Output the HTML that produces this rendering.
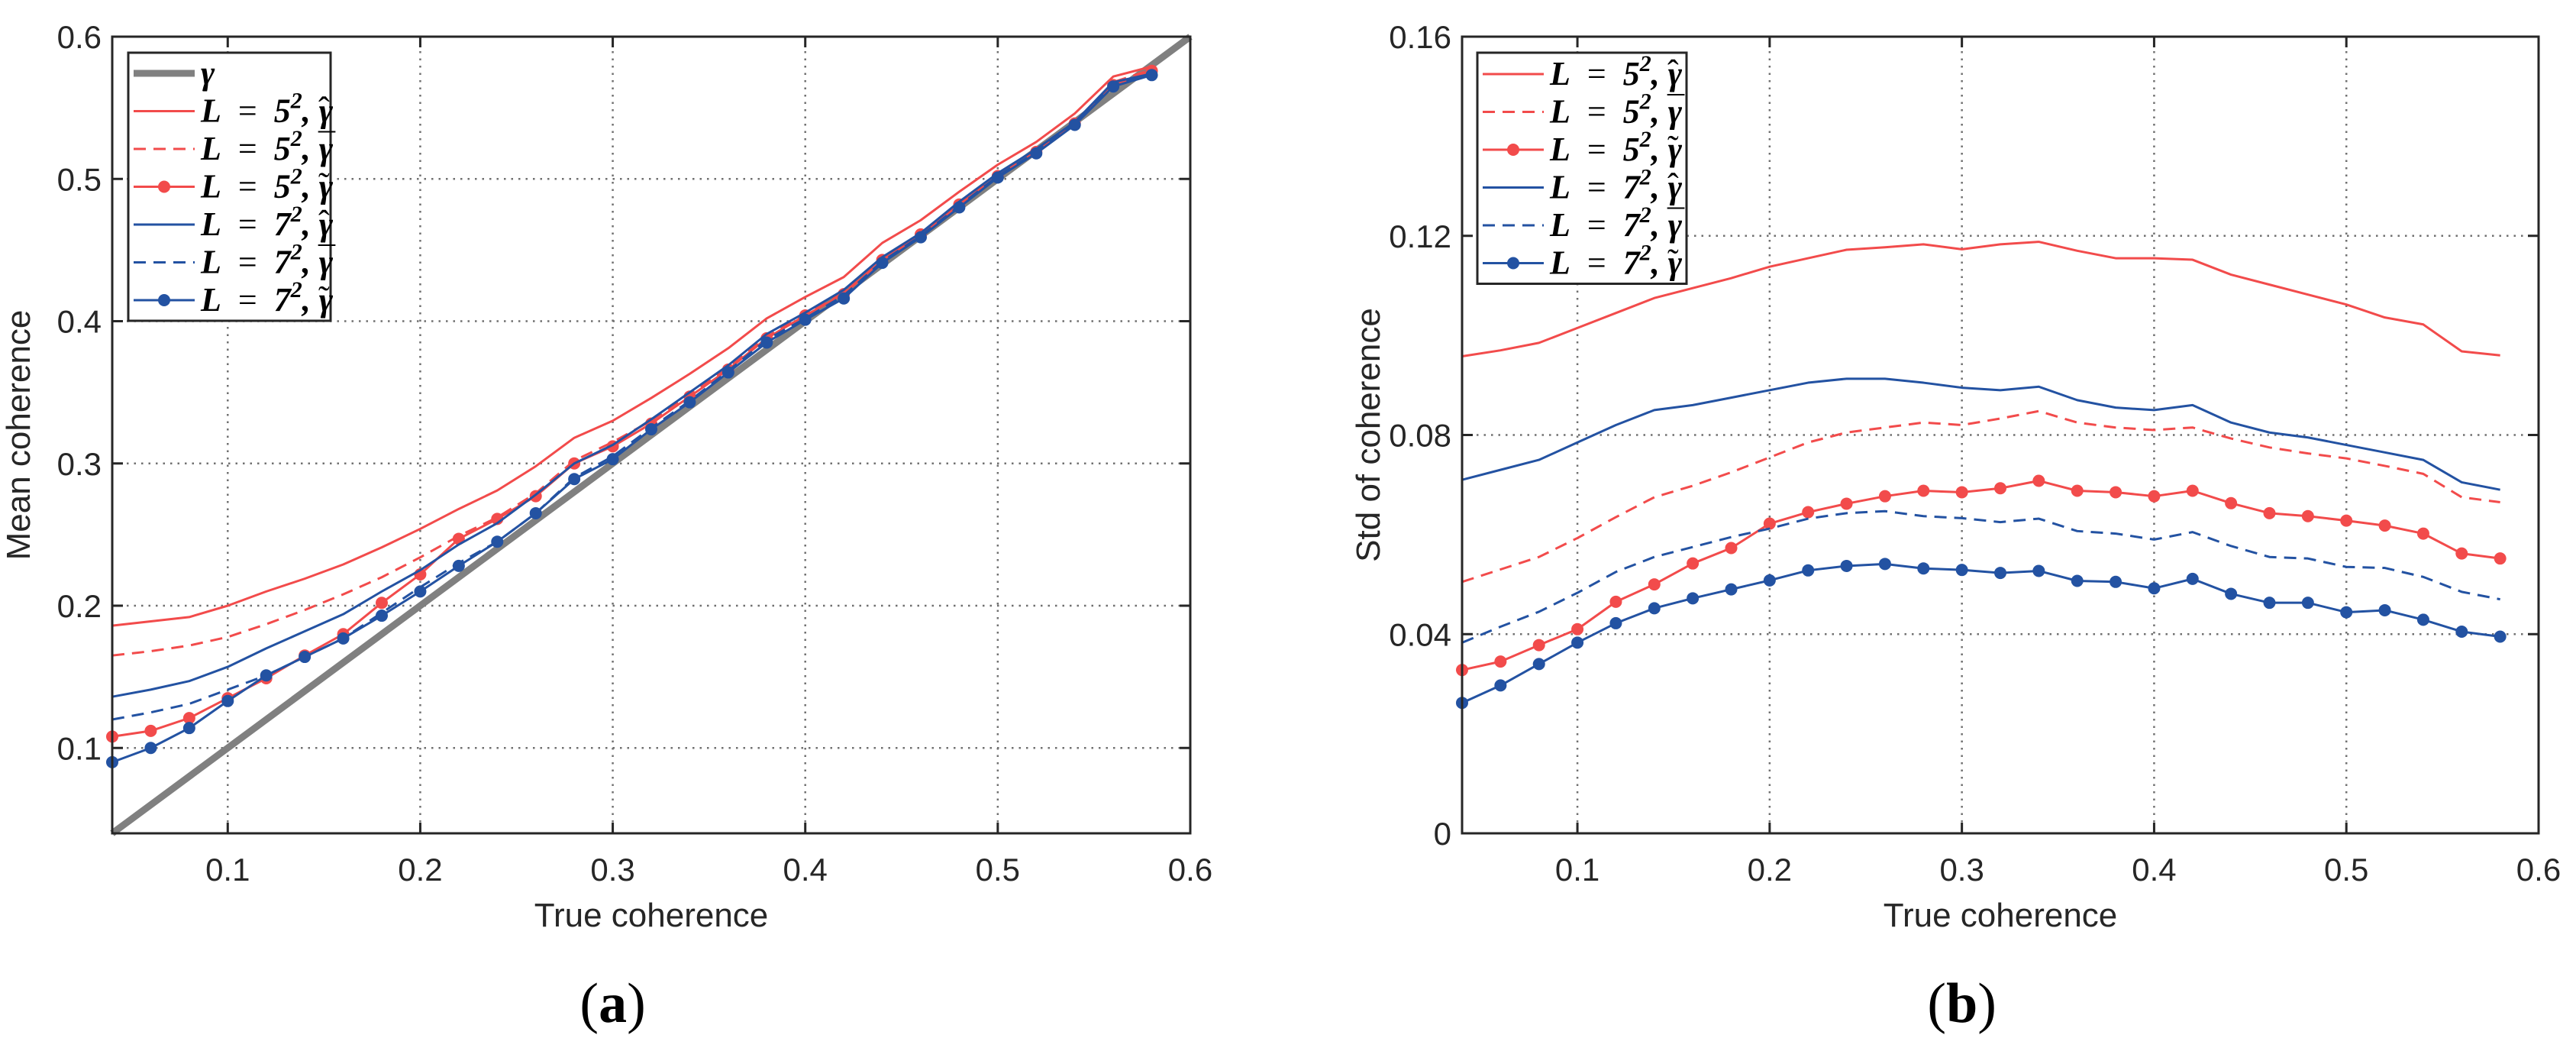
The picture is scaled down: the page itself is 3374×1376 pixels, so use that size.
<!DOCTYPE html>
<html><head><meta charset="utf-8"><style>
html,body{margin:0;padding:0;background:#fff}
svg{display:block}
text{font-family:"Liberation Sans",sans-serif;fill:#262626}
.lg{font-family:"Liberation Serif",serif;font-style:italic;font-weight:bold;font-size:44px;fill:#000}
</style></head><body>
<svg id="fig" width="3374" height="1376" viewBox="0 0 3374 1376" xmlns="http://www.w3.org/2000/svg"></svg>
<script>
const xs=[0.04,0.06,0.08,0.1,0.12,0.14,0.16,0.18,0.2,0.22,0.24,0.26,0.28,0.3,0.32,0.34,0.36,0.38,0.4,0.42,0.44,0.46,0.48,0.5,0.52,0.54,0.56,0.58];
const meanRedHat=[0.186,0.189,0.192,0.2,0.21,0.219,0.229,0.241,0.254,0.268,0.281,0.298,0.318,0.33,0.346,0.363,0.381,0.402,0.417,0.431,0.455,0.471,0.491,0.51,0.526,0.546,0.572,0.579];
const meanRedBar=[0.165,0.168,0.172,0.178,0.187,0.197,0.208,0.22,0.234,0.249,0.262,0.279,0.302,0.315,0.33,0.349,0.367,0.389,0.405,0.42,0.443,0.461,0.483,0.503,0.52,0.539,0.568,0.577];
const meanRedTil=[0.108,0.112,0.121,0.135,0.149,0.165,0.18,0.202,0.222,0.247,0.261,0.277,0.3,0.312,0.328,0.347,0.366,0.388,0.404,0.419,0.443,0.461,0.482,0.502,0.519,0.539,0.566,0.576];
const meanBlueHat=[0.136,0.141,0.147,0.157,0.17,0.182,0.194,0.21,0.225,0.243,0.258,0.278,0.3,0.313,0.331,0.35,0.369,0.391,0.406,0.422,0.445,0.462,0.484,0.504,0.521,0.54,0.568,0.574];
const meanBlueBar=[0.12,0.125,0.131,0.141,0.151,0.164,0.177,0.195,0.213,0.23,0.245,0.265,0.29,0.305,0.325,0.344,0.365,0.387,0.402,0.418,0.442,0.46,0.481,0.502,0.519,0.539,0.566,0.574];
const meanBlueTil=[0.09,0.1,0.114,0.133,0.151,0.164,0.177,0.193,0.21,0.228,0.245,0.265,0.289,0.303,0.324,0.343,0.364,0.385,0.401,0.416,0.441,0.459,0.48,0.501,0.518,0.538,0.565,0.573];
const stdRedHat=[0.0958,0.097,0.0985,0.1015,0.1045,0.1075,0.1095,0.1115,0.1138,0.1155,0.1172,0.1177,0.1183,0.1173,0.1183,0.1188,0.117,0.1155,0.1155,0.1152,0.1122,0.1102,0.1082,0.1062,0.1036,0.1022,0.0968,0.096];
const stdBlueHat=[0.071,0.073,0.075,0.0785,0.082,0.085,0.086,0.0875,0.089,0.0905,0.0913,0.0913,0.0905,0.0895,0.089,0.0897,0.087,0.0855,0.085,0.086,0.0825,0.0805,0.0795,0.078,0.0765,0.075,0.0705,0.069];
const stdRedBar=[0.0505,0.053,0.0555,0.0593,0.0635,0.0675,0.0698,0.0725,0.0755,0.0785,0.0805,0.0815,0.0825,0.082,0.0833,0.0848,0.0825,0.0815,0.081,0.0815,0.0793,0.0775,0.0763,0.0753,0.0738,0.0722,0.0675,0.0665];
const stdRedTil=[0.0328,0.0345,0.0378,0.041,0.0465,0.05,0.0542,0.0573,0.0622,0.0645,0.0662,0.0677,0.0688,0.0685,0.0693,0.0708,0.0688,0.0685,0.0677,0.0688,0.0663,0.0643,0.0637,0.0628,0.0618,0.0602,0.0562,0.0552];
const stdBlueBar=[0.0383,0.0415,0.0445,0.0483,0.0525,0.0555,0.0575,0.0595,0.0612,0.0632,0.0643,0.0647,0.0637,0.0633,0.0625,0.0632,0.0607,0.0602,0.059,0.0605,0.0577,0.0555,0.0552,0.0535,0.0533,0.0515,0.0485,0.047];
const stdBlueTil=[0.0262,0.0297,0.034,0.0383,0.0422,0.0452,0.0472,0.049,0.0508,0.0528,0.0537,0.0541,0.0532,0.0529,0.0523,0.0527,0.0507,0.0505,0.0492,0.0511,0.0481,0.0463,0.0463,0.0444,0.0448,0.0429,0.0405,0.0395];
const xTicks=[0.1,0.2,0.3,0.4,0.5,0.6];
const xTickLabels=["0.1","0.2","0.3","0.4","0.5","0.6"];
const yTicksA=[0.1,0.2,0.3,0.4,0.5,0.6];
const yTickLabelsA=["0.1","0.2","0.3","0.4","0.5","0.6"];
const yTicksB=[0,0.04,0.08,0.12,0.16];
const yTickLabelsB=["0","0.04","0.08","0.12","0.16"];
const gammaLine=[0.04,0.6];

const NS="http://www.w3.org/2000/svg";
const svg=document.getElementById('fig');
const RED="#F24B4B",BLUE="#2352A2";
function mk(tag,attrs,parent){const e=document.createElementNS(NS,tag);for(const k in attrs)e.setAttribute(k,attrs[k]);(parent||svg).appendChild(e);return e;}

function panel(id,L,R,T,B,xmin,xmax,ymin,ymax,yT,yTL,ylabel,letter,series,legendItems,legX,legRow0,legRight){
  const g=mk('g',{});
  
  
  const X=v=>L+(v-xmin)/(xmax-xmin)*(R-L);
  const Y=v=>B-(v-ymin)/(ymax-ymin)*(B-T);
  xTicks.forEach((t,i)=>{
    if(t>xmin&&t<xmax){const l=mk('line',{x1:X(t),x2:X(t),y1:T,y2:B,stroke:'#707070','stroke-width':2.5,'stroke-dasharray':'2.5 7'},g);
    }
    mk('line',{x1:X(t),x2:X(t),y1:B,y2:B-14,stroke:'#262626','stroke-width':3},g);
    mk('line',{x1:X(t),x2:X(t),y1:T,y2:T+14,stroke:'#262626','stroke-width':3},g);
    const tx=mk('text',{x:X(t),y:B+62,'font-size':42,'text-anchor':'middle'},g);tx.textContent=xTickLabels[i];
    
  });
  yT.forEach((t,i)=>{
    if(t>ymin&&t<ymax){const l=mk('line',{x1:L,x2:R,y1:Y(t),y2:Y(t),stroke:'#707070','stroke-width':2.5,'stroke-dasharray':'2.5 7'},g);
    }
    mk('line',{x1:L,x2:L+14,y1:Y(t),y2:Y(t),stroke:'#262626','stroke-width':3},g);
    mk('line',{x1:R,x2:R-14,y1:Y(t),y2:Y(t),stroke:'#262626','stroke-width':3},g);
    const tx=mk('text',{x:L-14,y:Y(t)+15,'font-size':42,'text-anchor':'end'},g);tx.textContent=yTL[i];
    
  });
  series.forEach(s=>{
    const pts=s.x.map((v,i)=>X(v)+','+Y(s.y[i])).join(' ');
    const pl=mk('polyline',{points:pts,fill:'none',stroke:s.c,'stroke-width':s.w||3,'stroke-dasharray':s.d||'none','stroke-linejoin':'round'},g);
    
    if(s.m){s.x.forEach((v,i)=>{const c=mk('circle',{cx:X(v),cy:Y(s.y[i]),r:8,fill:s.c},g);
      });}
  });
  const bx=mk('rect',{x:L,y:T,width:R-L,height:B-T,fill:'none',stroke:'#262626','stroke-width':3},g);
  
  const lg=mk('g',{},g);
  
  const n=legendItems.length;
  mk('rect',{x:legX,y:69,width:legRight-legX,height:legRow0-69+(n-1)*49.5+27,fill:'#fff',stroke:'#262626','stroke-width':3},lg);
  legendItems.forEach((it,i)=>{
    const y=legRow0+i*49.5;
    const e=mk('g',{},lg);
    
    mk('line',{x1:legX+7,x2:legX+87,y1:y,y2:y,stroke:it.c,'stroke-width':it.w||3,'stroke-dasharray':it.d||'none'},e);
    if(it.m)mk('circle',{cx:legX+47,cy:y,r:8,fill:it.c},e);
    const t=mk('text',{x:legX+95,y:y+14,class:'lg'},e);t.innerHTML=it.t;
  });
  const yl=mk('text',{x:0,y:0,'font-size':44,'text-anchor':'middle',transform:`translate(${L-108},${(T+B)/2}) rotate(-90)`},g);
  yl.textContent=ylabel;
  const xl=mk('text',{x:(L+R)/2,y:B+122,'font-size':44,'text-anchor':'middle'},g);
  xl.textContent='True coherence';
  const pl=mk('text',{x:X(0.3),y:1338,'font-size':74,'text-anchor':'middle',style:'font-family:"Liberation Serif",serif;fill:#000'},g);
  pl.innerHTML='(<tspan font-weight="bold">'+letter+'</tspan>)';
  
}
function lab(num,acc,ady){return 'L<tspan font-style="normal" font-weight="normal" xml:space="preserve">  =  </tspan>'+num+'<tspan dy="-18" font-size="30">2</tspan><tspan dy="18">, γ</tspan><tspan dx="-19" dy="'+ady+'" font-style="normal" font-weight="normal">'+acc+'</tspan>';}
const itemsB=[
 {c:RED,t:lab('5','ˆ',-2)},{c:RED,d:'16 10',t:lab('5','¯',-4)},{c:RED,m:1,t:lab('5','˜',-2)},
 {c:BLUE,t:lab('7','ˆ',-2)},{c:BLUE,d:'16 10',t:lab('7','¯',-4)},{c:BLUE,m:1,t:lab('7','˜',-2)}];
const itemsA=[{c:'#808080',w:9,t:'γ'}].concat(itemsB);
panel('mean',147,1559,48,1091,0.04,0.6,0.04,0.6,yTicksA,yTickLabelsA,'Mean coherence','a',[
 {name:'gamma-line',x:gammaLine,y:gammaLine,c:'#808080',w:9},
 {name:'red-hat-line',x:xs,y:meanRedHat,c:RED},
 {name:'red-bar-line',x:xs,y:meanRedBar,c:RED,d:'16 10'},
 {name:'red-tilde-line',x:xs,y:meanRedTil,c:RED,m:1},
 {name:'blue-hat-line',x:xs,y:meanBlueHat,c:BLUE},
 {name:'blue-bar-line',x:xs,y:meanBlueBar,c:BLUE,d:'16 10'},
 {name:'blue-tilde-line',x:xs,y:meanBlueTil,c:BLUE,m:1}
],itemsA,168,96,433);
panel('std',1915,3325,48,1091,0.04,0.6,0,0.16,yTicksB,yTickLabelsB,'Std of coherence','b',[
 {name:'red-hat-line',x:xs,y:stdRedHat,c:RED},
 {name:'red-bar-line',x:xs,y:stdRedBar,c:RED,d:'16 10'},
 {name:'red-tilde-line',x:xs,y:stdRedTil,c:RED,m:1},
 {name:'blue-hat-line',x:xs,y:stdBlueHat,c:BLUE},
 {name:'blue-bar-line',x:xs,y:stdBlueBar,c:BLUE,d:'16 10'},
 {name:'blue-tilde-line',x:xs,y:stdBlueTil,c:BLUE,m:1}
],itemsB,1935,97,2209);
</script>
</body></html>
